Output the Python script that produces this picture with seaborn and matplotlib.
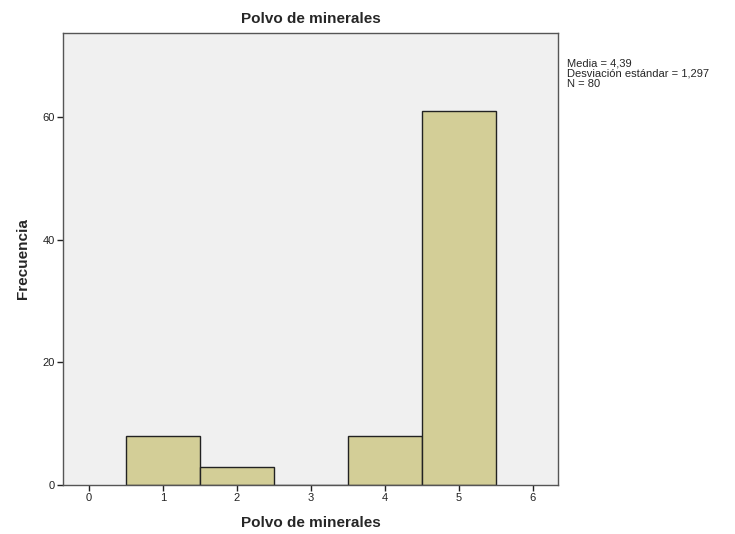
import numpy as np
import pandas as pd
import seaborn as sns
import matplotlib
matplotlib.use("Agg")
import matplotlib.pyplot as plt

# valores de la variable y frecuencias
valores = [1, 2, 4, 5]
frecuencias = [8, 3, 8, 61]
xticks = [0, 1, 2, 3, 4, 5, 6]
yticks = [0, 20, 40, 60]

dt = pd.DataFrame({"polvo": valores, "n": frecuencias})

sns.set_style("ticks")
plt.rcParams['font.family'] = ['Liberation Sans', 'DejaVu Sans']

fig = plt.figure(figsize=(7.35, 5.34), dpi=100)
ax = fig.add_axes([0.0857, 0.0918, 0.6735, 0.8465])
ax.set_facecolor("#f0f0f0")

sns.histplot(data=dt, x="polvo", weights="n", discrete=True, ax=ax,
             color="#d3ce97", edgecolor="#222222", linewidth=1, alpha=1)

ax.set_xlim(-0.35, 6.34)
ax.set_ylim(0, 73.7)
ax.set_xticks(xticks)
ax.set_yticks(yticks)
ax.tick_params(labelsize=8, length=4, width=1, pad=2, colors="#222222")
for s in ax.spines.values():
    s.set_color("#555555")
    s.set_linewidth(1)
    s.set_visible(True)

ax.set_title("Polvo de minerales", fontsize=11, fontweight="bold", pad=7)
ax.set_xlabel("Polvo de minerales", fontsize=11, fontweight="bold", labelpad=9)
ax.set_ylabel("Frecuencia", fontsize=11, fontweight="bold", labelpad=9)

fig.text(0.771, 0.89, "Media = 4,39\nDesviación estándar = 1,297\nN = 80",
         fontsize=8, va="top", ha="left", linespacing=1.0)

fig.savefig("out.png", dpi=100)
